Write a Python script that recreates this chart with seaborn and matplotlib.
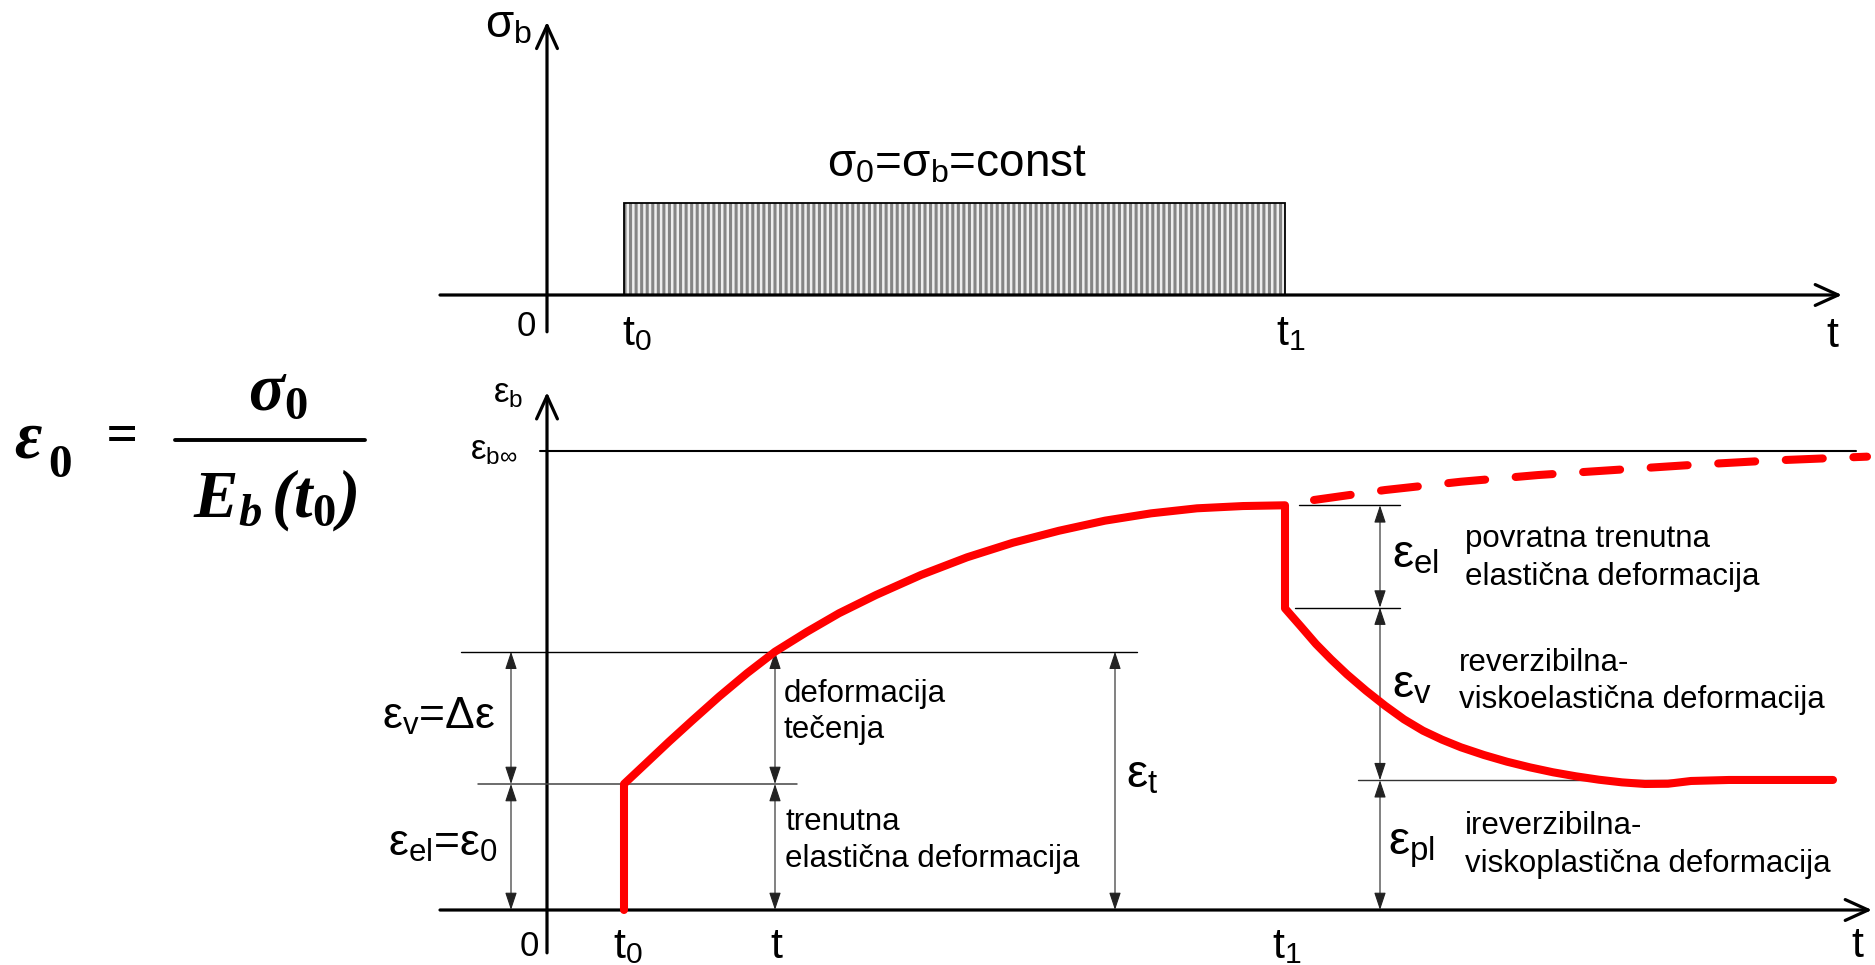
import matplotlib
matplotlib.use("Agg")
import matplotlib.pyplot as plt
from matplotlib.lines import Line2D
import seaborn as sns

# ---------------- data ----------------
# time in arbitrary units, stress in units of sigma0, strain in units of eps0
t0 = 0.77          # loading instant
t_obs = 2.28       # observation instant t
t1 = 7.38          # unloading instant
sigma0 = 1.0

eps_el = 1.0       # instantaneous elastic strain (eps0)
eps_t = 2.05       # total strain at t
eps_inf = 3.64     # final creep strain
eps_drop = 2.40    # strain right after unloading
eps_pl = 1.03      # irreversible strain

load_t = [0.77, 0.99, 1.22, 1.45, 1.72, 2.00, 2.28, 2.60, 2.92, 3.29, 3.74,
          4.20, 4.66, 5.12, 5.58, 6.04, 6.50, 6.96, 7.38]
load_eps = [1.000, 1.164, 1.336, 1.502, 1.693, 1.879, 2.050, 2.208, 2.355,
            2.500, 2.659, 2.799, 2.915, 3.010, 3.090, 3.148, 3.188, 3.206, 3.212]

unload_t = [7.38, 7.54, 7.69, 7.84, 8.00, 8.19, 8.38, 8.57, 8.76, 8.95, 9.14,
            9.37, 9.60, 9.83, 10.06, 10.29, 10.52, 10.75, 10.98, 11.21, 11.44,
            11.82, 12.86]
unload_eps = [2.394, 2.249, 2.111, 1.990, 1.870, 1.741, 1.622, 1.513, 1.423,
              1.352, 1.291, 1.230, 1.177, 1.132, 1.093, 1.061, 1.034, 1.013,
              1.000, 1.002, 1.024, 1.032, 1.032]

creep_t = [7.67, 8.38, 9.14, 9.91, 10.67, 11.44, 12.21, 13.20]
creep_eps = [3.254, 3.333, 3.399, 3.452, 3.492, 3.532, 3.566, 3.598]

# ---------------- figure / axes layout ----------------
W, H = 1875, 965
X0, SX = 547, 100          # pixel of t = 0, pixels per time unit
Y0T, SYT = 295, 92         # top panel origin / pixels per sigma unit
Y0B, SYB = 910, 126        # bottom panel origin / pixels per eps unit
SPLIT = 345

sns.set_theme(style="white")
plt.rcParams["font.family"] = ["Liberation Sans", "DejaVu Sans"]
plt.rcParams["hatch.linewidth"] = 2.2
plt.rcParams["mathtext.fontset"] = "custom"
plt.rcParams["mathtext.rm"] = "Liberation Serif"
plt.rcParams["mathtext.it"] = "Liberation Serif:italic"
plt.rcParams["mathtext.bf"] = "Liberation Serif:bold"

fig = plt.figure(figsize=(W / 100, H / 100), dpi=100)
ax_top = fig.add_axes([0, 1 - SPLIT / H, 1, SPLIT / H])
ax_bot = fig.add_axes([0, 0, 1, (H - SPLIT) / H])
for ax in (ax_top, ax_bot):
    ax.set_xlim(-X0 / SX, (W - X0) / SX)
    ax.set_axis_off()
ax_top.set_ylim((Y0T - SPLIT) / SYT, Y0T / SYT)
ax_bot.set_ylim((Y0B - H) / SYB, (Y0B - SPLIT) / SYB)


def axis_arrow(ax, start, tip):
    ax.annotate("", xy=tip, xytext=start, annotation_clip=False,
                arrowprops=dict(arrowstyle="->,head_length=1.65,head_width=0.75",
                                mutation_scale=10, lw=2.3, color="black",
                                shrinkA=0, shrinkB=0))


def dim_arrow(ax, x, y_from, y_to):
    ax.annotate("", xy=(x, y_to), xytext=(x, y_from), annotation_clip=False,
                arrowprops=dict(arrowstyle="<|-|>,head_length=1.08,head_width=0.36",
                                mutation_scale=10, lw=0.8, color="#222222",
                                shrinkA=0, shrinkB=0))


def sub(base, s):
    return rf"$\mathdefault{{{base}}}_{{\mathdefault{{{s}}}}}$"


def ptext(x, y, s, size, **kw):
    fig.text(x / W, 1 - y / H, s, fontsize=size, color="black", **kw)


# ---------------- top panel: constant stress ----------------
ax_top.bar((t0 + t1) / 2, sigma0, width=t1 - t0, bottom=0, facecolor="#eeeeee",
           edgecolor="#858585", hatch="|||", linewidth=0, zorder=1)
ax_top.bar((t0 + t1) / 2, sigma0, width=t1 - t0, bottom=0, fill=False,
           edgecolor="black", linewidth=1.3, zorder=2)
axis_arrow(ax_top, (-1.07, 0), (12.95, 0))
axis_arrow(ax_top, (0, -0.40), (0, 2.97))

# ---------------- bottom panel: strain response ----------------
path_t = [t0] + load_t + unload_t
path_eps = [0.0] + load_eps + unload_eps
sns.lineplot(x=path_t, y=path_eps, ax=ax_bot, sort=False, estimator=None,
             color="#ff0000", linewidth=5.8, zorder=5)
ax_bot.lines[-1].set_solid_capstyle("round")
ax_bot.lines[-1].set_solid_joinstyle("round")

sns.lineplot(x=creep_t, y=creep_eps, ax=ax_bot, sort=False, estimator=None,
             color="#ff0000", linewidth=5.8, zorder=5)
ax_bot.lines[-1].set_dashes((4.6, 3.8))
ax_bot.lines[-1].set_dash_capstyle("round")

axis_arrow(ax_bot, (-1.07, 0), (13.25, 0))
axis_arrow(ax_bot, (0, -0.34), (0, 4.11))

# limit line of final creep strain
ax_bot.plot([-0.07, 13.09], [eps_inf, eps_inf], color="black", lw=1.5, zorder=3)

# reference lines for the dimensions
ax_bot.plot([-0.86, 5.90], [eps_t, eps_t], color="black", lw=1.0, zorder=3)
ax_bot.plot([-0.69, 2.50], [eps_el, eps_el], color="#444444", lw=1.1, zorder=3)
ax_bot.plot([7.52, 8.53], [load_eps[-1], load_eps[-1]], color="black", lw=1.0, zorder=3)
ax_bot.plot([7.48, 8.53], [eps_drop, eps_drop], color="black", lw=1.0, zorder=3)
ax_bot.plot([8.11, 11.25], [eps_pl, eps_pl], color="#333333", lw=1.0, zorder=3)

# dimension arrows
dim_arrow(ax_bot, -0.36, eps_t, eps_el)
dim_arrow(ax_bot, -0.36, eps_el, 0)
dim_arrow(ax_bot, t_obs, eps_t, eps_el)
dim_arrow(ax_bot, t_obs, eps_el, 0)
dim_arrow(ax_bot, 5.68, eps_t, 0)
dim_arrow(ax_bot, 8.33, load_eps[-1], eps_drop)
dim_arrow(ax_bot, 8.33, eps_drop, eps_pl)
dim_arrow(ax_bot, 8.33, eps_pl, 0)

# ---------------- texts ----------------
# top panel
ptext(485, 38, sub("σ", "b"), 33, va="baseline")
ptext(827, 177, sub("σ", "0") + "=" + sub("σ", "b") + "=const", 33, va="baseline")
ptext(517, 336, "0", 25, va="baseline")
ptext(622, 345, sub("t", "0"), 31, va="baseline")
ptext(1276, 345, sub("t", "1"), 31, va="baseline")
ptext(1826, 347, "t", 31, va="baseline")

# bottom panel axis labels
ptext(493, 403, sub("ε", "b"), 25, va="baseline")
ptext(470, 460, sub("ε", "b∞"), 25, va="baseline")
ptext(520, 956, "0", 25, va="baseline")
ptext(613, 958, sub("t", "0"), 31, va="baseline")
ptext(770, 958, "t", 31, va="baseline")
ptext(1272, 958, sub("t", "1"), 31, va="baseline")
ptext(1851, 957, "t", 31, va="baseline")

# dimension labels
ptext(382, 728, sub("ε", "v") + "=Δε", 32, va="baseline")
ptext(388, 855, sub("ε", "el") + "=" + sub("ε", "0"), 32, va="baseline")
ptext(1126, 788, sub("ε", "t"), 34, va="baseline")
ptext(1392, 568, sub("ε", "el"), 34, va="baseline")
ptext(1392, 698, sub("ε", "v"), 34, va="baseline")
ptext(1388, 855, sub("ε", "pl"), 34, va="baseline")

# descriptions
TS = 22.5
ptext(784, 702, "deformacija", TS, va="baseline")
ptext(784, 738, "tečenja", TS, va="baseline")
ptext(785, 830, "trenutna", TS, va="baseline")
ptext(785, 867, "elastična deformacija", TS, va="baseline")
ptext(1465, 547, "povratna trenutna", TS, va="baseline")
ptext(1465, 585, "elastična deformacija", TS, va="baseline")
ptext(1459, 671, "reverzibilna-", TS, va="baseline")
ptext(1459, 708, "viskoelastična deformacija", TS, va="baseline")
ptext(1465, 834, "ireverzibilna-", TS, va="baseline")
ptext(1465, 872, "viskoplastična deformacija", TS, va="baseline")

# elastic strain formula  eps0 = sigma0 / Eb(t0)
FS = 48
fkw = dict(family="Liberation Serif", fontweight="bold", fontstyle="italic")
ukw = dict(family="Liberation Serif", fontweight="bold")
ptext(14, 457, "ε", FS, va="baseline", ha="left", **fkw)
ptext(48, 477, "0", 34, va="baseline", ha="left", **ukw)
ptext(122, 438, "=", 40, va="center", ha="center", **fkw)
ptext(278, 410, r"$\mathdefault{σ}_{\mathbf{0}}$", FS, va="baseline",
      ha="center", **fkw)
ptext(275, 517,
      r"$\mathdefault{E}_{\mathdefault{b}}\,\mathdefault{(t}_{\mathbf{0}}\mathdefault{)}$",
      FS, va="baseline", ha="center", **fkw)
fig.add_artist(Line2D([175 / W, 365 / W], [1 - 440 / H, 1 - 440 / H],
                      transform=fig.transFigure, color="black", lw=2.8))

fig.savefig("out.png", dpi=100, facecolor="white")
